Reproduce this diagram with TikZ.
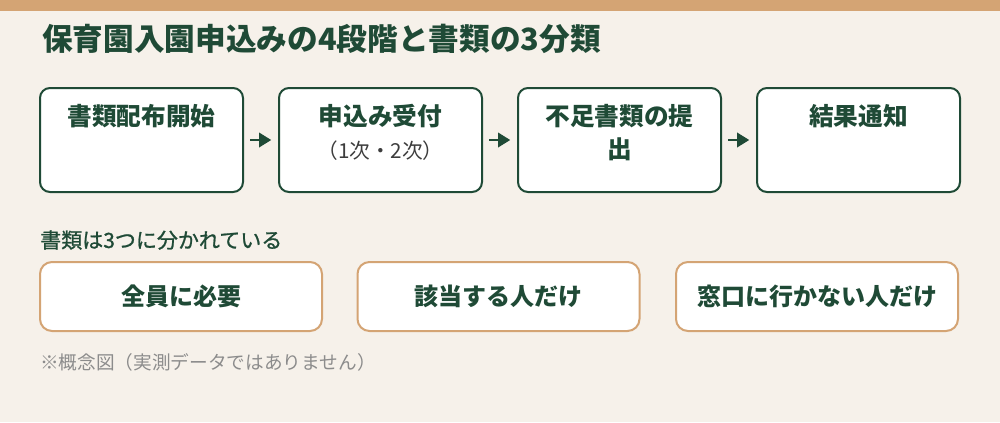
\documentclass[tikz,border=0pt]{standalone}
\usepackage{fontspec}
\setmainfont{Noto Sans CJK JP}
\newfontfamily\medfont[FakeBold=1]{Noto Sans CJK JP}
\usetikzlibrary{arrows.meta}
\definecolor{bgcream}{HTML}{F6F1EA}
\definecolor{bandtan}{HTML}{D4A474}
\definecolor{deepgreen}{HTML}{1F4A36}
\definecolor{notegray}{HTML}{8C8C8C}
\definecolor{subgray}{HTML}{3D3D3D}
\tikzset{>=Triangle}
\tikzset{
  stepbox/.style={draw=deepgreen, line width=1.5pt, rounded corners=7.5pt,
    fill=white, minimum width=152.25pt, minimum height=78pt, inner sep=0pt},
  steptext/.style={anchor=north, inner sep=0pt, align=center, text=deepgreen,
    font=\fontsize{18.5}{24.75}\selectfont\bfseries},
  kindbox/.style={draw=bandtan, line width=1.5pt, rounded corners=9pt,
    fill=white, minimum width=211.5pt, minimum height=51.75pt, inner sep=0pt,
    text=deepgreen, font=\fontsize{18}{22}\selectfont\bfseries},
  flowarrow/.style={->, draw=deepgreen, line width=2.2pt,
    shorten <=4.5pt, shorten >=5pt},
}

\begin{document}
\begin{tikzpicture}[x=0.75pt,y=-0.75pt]
    \useasboundingbox (0,0) rectangle (1000,422);
    \fill[bgcream] (0,0) rectangle (1000,422);
    \fill[bandtan] (0,0) rectangle (1000,11);
    \node[anchor=west, inner sep=0pt, text=deepgreen,
      font=\fontsize{23}{28}\selectfont\bfseries] (title) at (42,39)
      {保育園入園申込みの4段階と書類の3分類};
    % the four steps
    \node[stepbox] (s1) at (141.5,140) {};
    \node[stepbox] (s2) at (380.5,140) {};
    \node[stepbox] (s3) at (619.5,140) {};
    \node[stepbox] (s4) at (858.5,140) {};
    \node[steptext] (t1) at ([yshift=-12.75pt]s1.north) {書類配布開始};
    \node[steptext] (t2) at ([yshift=-12.75pt]s2.north)
      {申込み受付\\{\mdseries\color{subgray}\fontsize{15.5}{20}\selectfont （1次・2次）}};
    \node[steptext] (t3) at ([yshift=-12.75pt]s3.north) {不足書類の提\\出};
    \node[steptext] (t4) at ([yshift=-12.75pt]s4.north) {結果通知};
    \foreach \a/\b in {s1/s2,s2/s3,s3/s4}
        \draw[flowarrow] (\a.east) -- (\b.west);
    % the three kinds of papers
    \node[anchor=west, inner sep=0pt, text=deepgreen,
      font=\fontsize{15.75}{18}\selectfont\medfont] (kinds) at (40,240)
      {書類は3つに分かれている};
    \node[kindbox] (k1) at (181,296.5) {全員に必要};
    \node[kindbox] (k2) at (498.5,296.5) {該当する人だけ};
    \node[kindbox] (k3) at (817,296.5) {窓口に行かない人だけ};
    \node[anchor=west, inner sep=0pt, text=notegray,
      font=\fontsize{14}{16}\selectfont] (note) at (40,362)
      {※概念図（実測データではありません）};
\end{tikzpicture}
\end{document}
